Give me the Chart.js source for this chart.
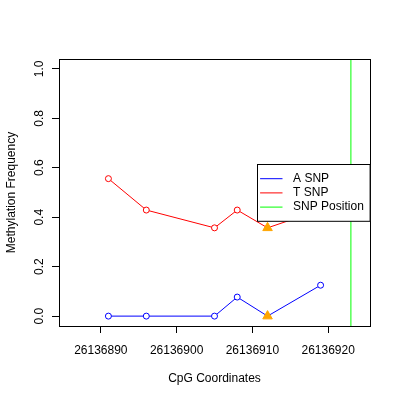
<!DOCTYPE html>
<html>
<head>
<meta charset="utf-8">
<script src="https://cdn.jsdelivr.net/npm/chart.js@4.4.0/dist/chart.umd.min.js"></script>
<style>
  html, body { margin: 0; padding: 0; background: #fff; }
  canvas { display: block; }
</style>
</head>
<body>
<canvas id="grafico" width="400" height="400"></canvas>
<script>
// posições CpG e frequências
const coordenadas = [26136891, 26136896, 26136905, 26136908, 26136912, 26136919];
const aSnp = [0, 0, 0, 0.077, 0, 0.125];
const tSnp = [0.556, 0.429, 0.357, 0.429, 0.357, 0.43];
const posicaoSnp = 26136923;
const marcaX = 26136912; // ponto marcado com triângulo
const xTicks = [26136890, 26136900, 26136910, 26136920];
const yTicks = [0, 0.2, 0.4, 0.6, 0.8, 1.0];
const xLimites = [26136886, 26136924];
const yLimites = [0, 1];

// extensão de 4% como no R
const ext = (lim) => {
    const d = (lim[1] - lim[0]) * 0.04;
    return [lim[0] - d, lim[1] + d];
};
const [xMin, xMax] = ext(xLimites);
const [yMin, yMax] = ext(yLimites);

const fonte = { family: '"Liberation Sans", Arial, sans-serif', size: 12 };
const fonteCss = '12px "Liberation Sans", Arial, sans-serif';

const pontos = (valores) => coordenadas.map((x, i) => ({ x: x, y: valores[i] }));
const iMarca = coordenadas.indexOf(marcaX);
const raio = (ctx) => (ctx.raw && ctx.raw.x === marcaX ? 0 : 3);

// caixa, rótulos do eixo y e legenda
const extrasR = {
    id: 'extrasR',
    afterDraw(chart) {
        const ctx = chart.ctx;
        const ca = chart.chartArea;
        const y = chart.scales.y;
        ctx.save();
        ctx.fillStyle = '#000';
        ctx.font = fonteCss;
        ctx.textAlign = 'center';
        ctx.textBaseline = 'middle';
        yTicks.forEach((v) => {
            const py = y.getPixelForValue(v);
            ctx.save();
            ctx.translate(40, py);
            ctx.rotate(-Math.PI / 2);
            ctx.fillText(v.toFixed(1), 0, 0);
            ctx.restore();
        });

        ctx.strokeStyle = '#000';
        ctx.lineWidth = 1;
        ctx.strokeRect(Math.round(ca.left) + 0.5, Math.round(ca.top) + 0.5,
            Math.round(ca.right - ca.left), Math.round(ca.bottom - ca.top));

        // legenda à direita, centrada
        const itens = chart.data.datasets.filter((d) => d.legenda);
        const passo = 14.2;
        const largTexto = Math.max(...itens.map((d) => ctx.measureText(d.label).width));
        const w = 35.6 + largTexto + 6.3;
        const h = passo * (itens.length + 1);
        const x0 = Math.round(ca.right - w) + 0.5;
        const y0 = Math.round((ca.top + ca.bottom) / 2 - h / 2) + 0.5;
        ctx.fillStyle = '#fff';
        ctx.fillRect(x0, y0, w, h);
        ctx.strokeRect(x0, y0, w, h);
        ctx.textAlign = 'left';
        itens.forEach((d, i) => {
            const ly = y0 + passo * (i + 1);
            ctx.strokeStyle = d.borderColor;
            ctx.beginPath();
            ctx.moveTo(x0 + 2.6, ly);
            ctx.lineTo(x0 + 25, ly);
            ctx.stroke();
            ctx.fillStyle = '#000';
            ctx.fillText(d.label, x0 + 35.6, ly);
        });
        ctx.restore();
    }
};

new Chart(document.getElementById('grafico'), {
    type: 'scatter',
    data: {
        datasets: [
            {
                label: 'marca',
                data: [{ x: marcaX, y: tSnp[iMarca] }, { x: marcaX, y: aSnp[iMarca] }],
                pointStyle: 'triangle',
                pointRadius: 5.5,
                pointBackgroundColor: '#FFA500',
                pointBorderColor: '#FFA500',
                pointBorderWidth: 1,
                showLine: false,
                order: 0
            },
            {
                label: 'A SNP',
                data: pontos(aSnp),
                showLine: true,
                borderColor: '#0000FF',
                borderWidth: 1,
                pointRadius: raio,
                pointBorderColor: '#0000FF',
                pointBackgroundColor: '#FFFFFF',
                pointBorderWidth: 1,
                legenda: true,
                order: 1
            },
            {
                label: 'T SNP',
                data: pontos(tSnp),
                showLine: true,
                borderColor: '#FF0000',
                borderWidth: 1,
                pointRadius: raio,
                pointBorderColor: '#FF0000',
                pointBackgroundColor: '#FFFFFF',
                pointBorderWidth: 1,
                legenda: true,
                order: 1
            },
            {
                label: 'SNP Position',
                data: [{ x: posicaoSnp, y: yMin }, { x: posicaoSnp, y: yMax }],
                showLine: true,
                borderColor: '#00FF00',
                borderWidth: 1,
                pointRadius: 0,
                legenda: true,
                order: 2
            }
        ]
    },
    options: {
        responsive: false,
        animation: false,
        layout: { padding: { top: 59, right: 30, left: 0, bottom: 0 } },
        plugins: {
            legend: { display: false },
            tooltip: { enabled: false }
        },
        scales: {
            x: {
                type: 'linear',
                position: 'bottom',
                min: xMin,
                max: xMax,
                afterBuildTicks: (s) => { s.ticks = xTicks.map((v) => ({ value: v })); },
                afterFit: (s) => { s.height = 74; },
                ticks: { callback: (v) => String(v), color: '#000', font: fonte, padding: 10, maxRotation: 0, autoSkip: false },
                grid: { drawOnChartArea: false, drawTicks: true, tickLength: 7, color: '#000' },
                border: { display: false },
                title: { display: true, text: 'CpG Coordinates', color: '#000', font: fonte, padding: { top: 0, bottom: 14 } }
            },
            y: {
                type: 'linear',
                min: yMin,
                max: yMax,
                afterBuildTicks: (s) => { s.ticks = yTicks.map((v) => ({ value: v })); },
                afterFit: (s) => { s.width = 59; },
                ticks: { display: false },
                grid: { drawOnChartArea: false, drawTicks: true, tickLength: 7, color: '#000' },
                border: { display: false },
                title: { display: true, text: 'Methylation Frequency', color: '#000', font: fonte, padding: { top: 4, bottom: 0 } }
            }
        }
    },
    plugins: [extrasR]
});
</script>
</body>
</html>
